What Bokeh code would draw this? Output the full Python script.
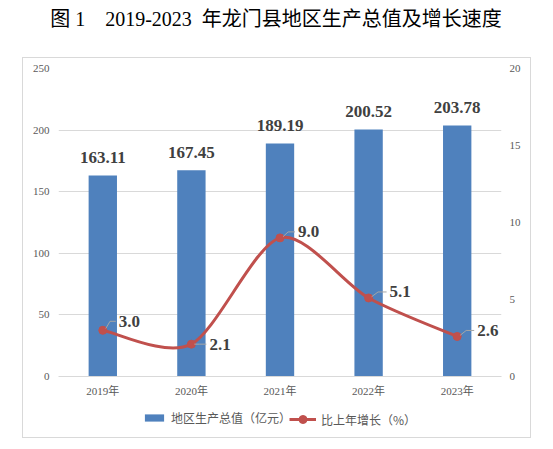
from bokeh.plotting import figure
from bokeh.models import (Range1d, LinearAxis, FixedTicker, ColumnDataSource,
                          LabelSet, Legend, LegendItem)
from bokeh.layouts import column
from bokeh.core.properties import value
from bokeh.embed import file_html
from bokeh.resources import INLINE

# ---------------- data ----------------
years = ["2019年", "2020年", "2021年", "2022年", "2023年"]
gdp = [163.11, 167.45, 189.19, 200.52, 203.78]
growth = [3.0, 2.1, 9.0, 5.1, 2.6]
gdp_ticks = [0, 50, 100, 150, 200, 250]
growth_ticks = [0, 5, 10, 15, 20]
series_names = ["地区生产总值（亿元）", "比上年增长（%）"]
title_text = "图 1\u00a0\u00a0\u00a0 2019-2023\u00a0 年龙门县地区生产总值及增长速度"

# ---------------- style ----------------
SERIF = "'Liberation Serif', 'Noto Sans CJK SC', serif"
CJK = "'Noto Sans CJK SC', sans-serif"
BAR_C = "#4F81BD"
LINE_C = "#C0504D"
GRID_C = "#D9D9D9"
TICK_C = "#595959"
LABEL_C = "#404040"
FRAME_W, FRAME_H = 443, 308
SMOOTH = 1.0 / 7.0
# label offsets (screen px) for growth labels: (dx, dy)
g_dx = [16, 18, 18, 21, 20]
g_dy = [9, 0, 6, 6, 6]

xs = list(range(len(years)))

# ---------------- title figure ----------------
pt = figure(width=551, height=57, x_range=Range1d(0, 1), y_range=Range1d(0, 1),
            toolbar_location=None, output_backend="svg", min_border=0)
pt.axis.visible = False
pt.grid.visible = False
pt.outline_line_color = None
pt.text(x=[0.5], y=[0.667], text=[title_text], text_align="center",
        text_baseline="middle", text_font=value(SERIF), text_font_size="20px",
        text_color="#000000")

# ---------------- main figure ----------------
p = figure(frame_width=FRAME_W, frame_height=FRAME_H,
           x_range=Range1d(-0.5, len(years) - 0.5),
           y_range=Range1d(gdp_ticks[0], gdp_ticks[-1]),
           toolbar_location=None, output_backend="svg",
           min_border_left=35, min_border_right=29, min_border_top=10,
           min_border_bottom=30)
p.extra_y_ranges = {"right": Range1d(growth_ticks[0], growth_ticks[-1])}
p.outline_line_color = None

# axes
p.xaxis.ticker = FixedTicker(ticks=xs)
p.xaxis.major_label_overrides = {i: y for i, y in enumerate(years)}
p.xaxis.axis_line_color = GRID_C
p.xaxis.major_tick_line_color = None
p.xaxis.minor_tick_line_color = None
p.xaxis.major_tick_out = 0
p.xaxis.major_tick_in = 0
p.xaxis.major_label_standoff = 8
p.xaxis.major_label_text_font = SERIF
p.xaxis.major_label_text_font_size = "11px"
p.xaxis.major_label_text_color = TICK_C

p.yaxis.ticker = FixedTicker(ticks=gdp_ticks)
ra = LinearAxis(y_range_name="right", ticker=FixedTicker(ticks=growth_ticks))
p.add_layout(ra, "right")
for ax, so in ((p.yaxis[0], 9), (ra, 8)):
    ax.axis_line_color = None
    ax.major_tick_line_color = None
    ax.minor_tick_line_color = None
    ax.major_tick_out = 0
    ax.major_tick_in = 0
    ax.major_label_standoff = so
    ax.major_label_text_font = SERIF
    ax.major_label_text_font_size = "11px"
    ax.major_label_text_color = TICK_C

p.xgrid.visible = False
p.ygrid.ticker = FixedTicker(ticks=gdp_ticks[1:])
p.ygrid.grid_line_color = GRID_C

# bars
bsrc = ColumnDataSource(dict(x=xs, top=gdp, label=[f"{v:.2f}" for v in gdp]))
bars = p.vbar(x="x", top="top", width=0.32, source=bsrc, fill_color=BAR_C,
              line_color=None)
p.add_layout(LabelSet(x="x", y="top", text="label", source=bsrc,
                      text_align="center", text_baseline="middle", y_offset=18,
                      text_font=value(SERIF), text_font_size="17px",
                      text_font_style="bold", text_color=LABEL_C))

# smooth line (cardinal bezier)
n = len(growth)
x0s, y0s, x1s, y1s, cx0s, cy0s, cx1s, cy1s = ([] for _ in range(8))
for i in range(n - 1):
    im, ip2 = max(i - 1, 0), min(i + 2, n - 1)
    x0s.append(xs[i]); y0s.append(growth[i])
    x1s.append(xs[i + 1]); y1s.append(growth[i + 1])
    cx0s.append(xs[i] + (xs[i + 1] - xs[im]) * SMOOTH)
    cy0s.append(growth[i] + (growth[i + 1] - growth[im]) * SMOOTH)
    cx1s.append(xs[i + 1] - (xs[ip2] - xs[i]) * SMOOTH)
    cy1s.append(growth[i + 1] - (growth[ip2] - growth[i]) * SMOOTH)
curve = p.bezier(x0=x0s, y0=y0s, x1=x1s, y1=y1s, cx0=cx0s, cy0=cy0s,
                 cx1=cx1s, cy1=cy1s, line_color=LINE_C, line_width=3,
                 y_range_name="right")
gsrc = ColumnDataSource(dict(x=xs, y=growth, label=[f"{v:.1f}" for v in growth],
                             dx=g_dx, dy=g_dy))
pts = p.scatter(x="x", y="y", source=gsrc, size=8, fill_color=LINE_C,
                line_color=LINE_C, y_range_name="right")

# leader lines (px offsets converted to data units)
pxx = FRAME_W / len(years)
pxy = FRAME_H / (growth_ticks[-1] - growth_ticks[0])
lx, ly = [], []
for i in range(n):
    dx, dy = g_dx[i], g_dy[i]
    lx.append([xs[i] + 3 / pxx, xs[i] + (dx * 0.45) / pxx, xs[i] + (dx - 3) / pxx])
    ly.append([growth[i] + (dy * 0.2) / pxy, growth[i] + dy / pxy, growth[i] + dy / pxy])
p.multi_line(xs=lx, ys=ly, line_color="#A6A6A6", line_width=1, y_range_name="right")

p.add_layout(LabelSet(x="x", y="y", text="label", source=gsrc, x_offset="dx",
                      y_offset="dy", y_range_name="right",
                      text_align="left", text_baseline="middle",
                      text_font=value(SERIF), text_font_size="17px",
                      text_font_style="bold", text_color=LABEL_C))

# ---------------- legend strip ----------------
pl = figure(width=507, height=31, x_range=Range1d(-0.5, len(years) - 0.5),
            y_range=Range1d(0, 1), toolbar_location=None, output_backend="svg",
            min_border=0)
pl.axis.visible = False
pl.grid.visible = False
pl.outline_line_color = None
# hidden proxy renderers (same data) so the legends can draw their glyphs
lg_bar = pl.vbar(x="x", top="top", width=0.32, source=bsrc, fill_color=BAR_C,
                 line_color=None, visible=False)
lg_line = pl.line(x="x", y="y", source=gsrc, line_color=LINE_C, line_width=3,
                  visible=False)
lg_pt = pl.scatter(x="x", y="y", source=gsrc, size=8, fill_color=LINE_C,
                   line_color=LINE_C, visible=False)

common = dict(orientation="horizontal", label_height=14, label_standoff=5,
              padding=0, margin=0, border_line_color=None,
              background_fill_alpha=0, inactive_fill_alpha=0,
              label_text_font=CJK, label_text_font_size="12px",
              label_text_color=TICK_C)
leg1 = Legend(items=[LegendItem(label=series_names[0], renderers=[lg_bar])],
              location=(84, 11), glyph_width=24, glyph_height=9, **common)
leg2 = Legend(items=[LegendItem(label=series_names[1], renderers=[lg_line, lg_pt])],
              location=(231, 8), glyph_width=27, glyph_height=20, **common)
pl.add_layout(leg1, "center")
pl.add_layout(leg2, "center")

box = column(p, pl, spacing=0)
box.margin = (0, 0, 0, 22)
box.styles = {"border": "1px solid #D9D9D9"}

layout = column(pt, box)
open("out.html", "w").write(file_html(layout, INLINE))
